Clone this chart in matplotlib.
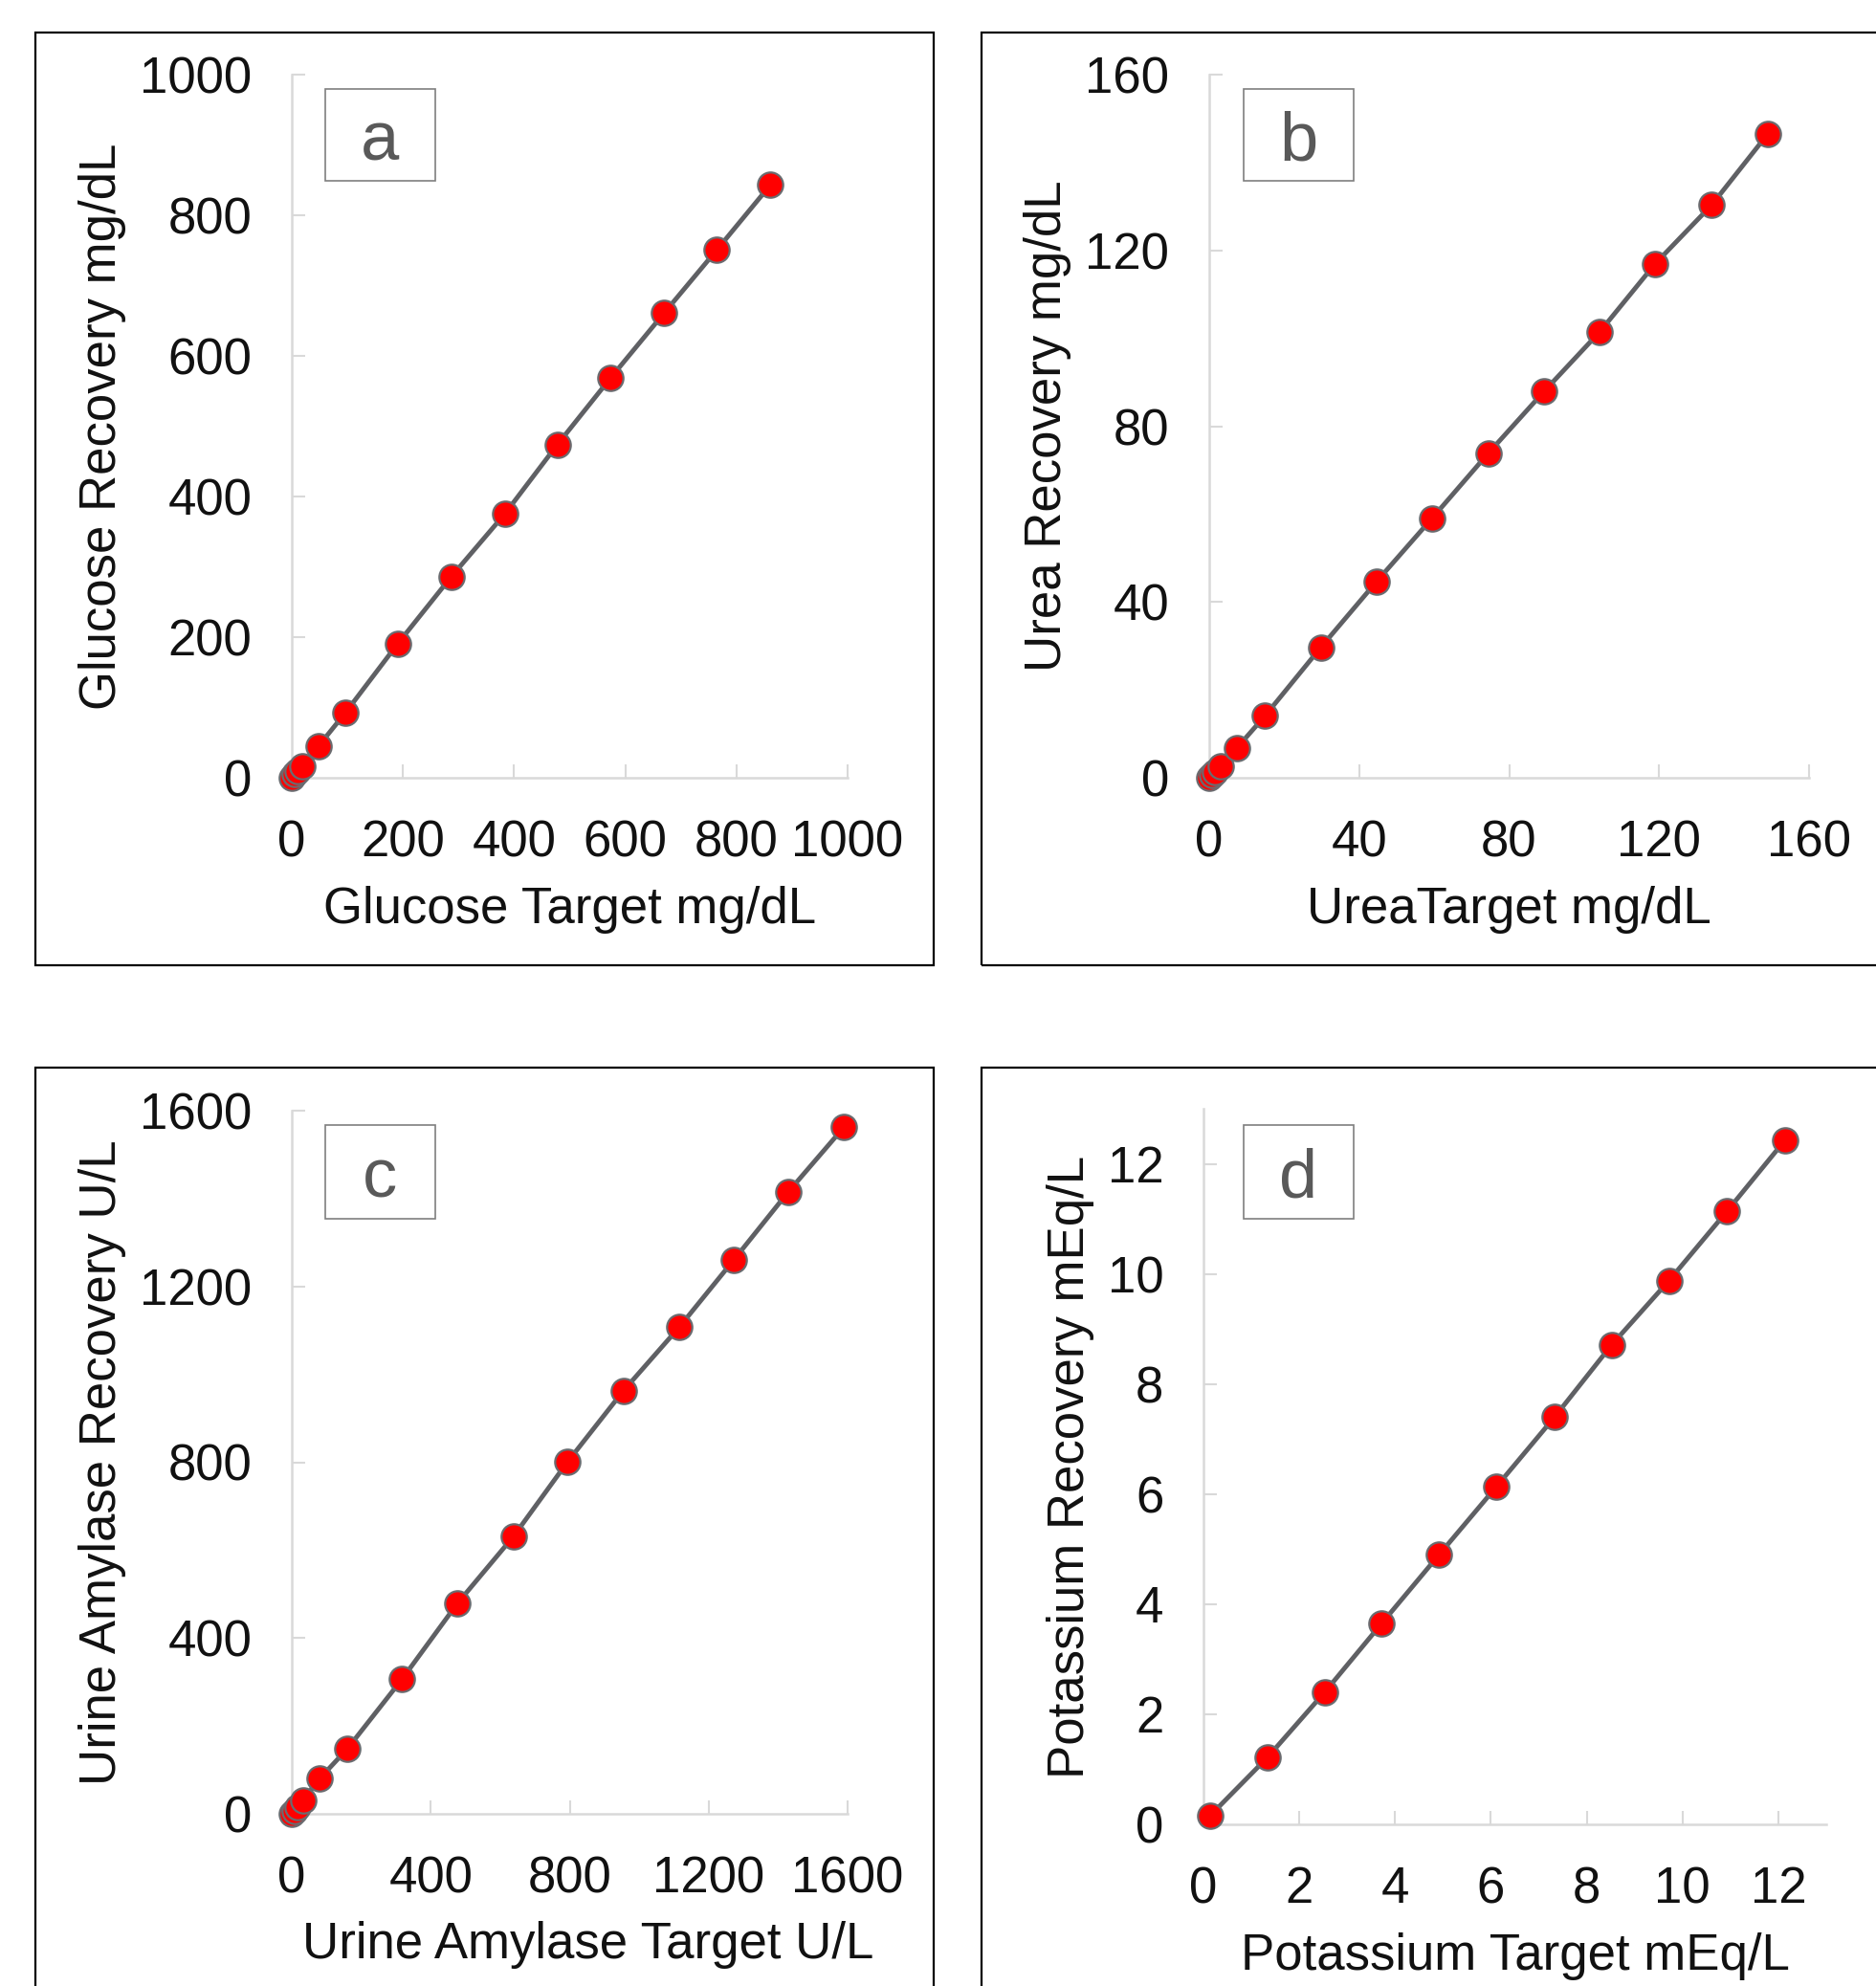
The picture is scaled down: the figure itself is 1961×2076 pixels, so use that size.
import numpy as np
import matplotlib.pyplot as plt
from matplotlib.patches import Rectangle

plt.rcParams['font.family'] = ['Liberation Sans', 'DejaVu Sans']

# panel a - glucose
glu_target = [0, 5, 10, 19, 48, 96, 191, 287, 383, 478, 574, 670, 765, 861]
glu_recovery = [0, 5, 9, 17, 45, 92, 191, 286, 375, 474, 569, 661, 751, 843]

# panel b - urea
urea_target = [0, 0.75, 1.5, 3, 7.4, 14.9, 29.8, 44.7, 59.5, 74.4, 89.3, 104.2, 119.0, 134.0, 148.9]
urea_recovery = [0, 0.7, 1.4, 2.7, 6.8, 14.1, 29.7, 44.7, 59.1, 73.8, 87.9, 101.5, 117.0, 130.3, 146.4]

# panel c - urine amylase
amy_target = [0, 8, 16, 32, 80, 159, 317, 477, 638, 794, 955, 1115, 1272, 1429, 1589]
amy_recovery = [0, 7, 15, 31, 80, 147, 306, 479, 631, 801, 963, 1107, 1260, 1415, 1562]

# panel d - potassium
k_target = [0.13, 1.33, 2.53, 3.72, 4.92, 6.12, 7.33, 8.52, 9.72, 10.93, 12.14]
k_recovery = [0.15, 1.21, 2.40, 3.65, 4.90, 6.14, 7.40, 8.71, 9.88, 11.14, 12.43]

W, H = 1961, 2076
fig = plt.figure(figsize=(W / 100, H / 100), dpi=100)

def fx(px):
    return px / W

def fy(py):
    return 1 - py / H

panels = [
    # data, axes box (px: left, top, right, bottom), limits, ticks, labels, xlabel x-pos, letter, letter box px
    (glu_target, glu_recovery, (305, 78, 886, 813), 1000, np.arange(0, 1001, 200),
     'Glucose Target mg/dL', 'Glucose Recovery mg/dL', 0.5, 'a', (340, 93, 455, 189)),
    (urea_target, urea_recovery, (1264, 78, 1891, 813), 160, np.arange(0, 161, 40),
     'UreaTarget mg/dL', 'Urea Recovery mg/dL', 0.5, 'b', (1300, 93, 1415, 189)),
    (amy_target, amy_recovery, (305, 1161, 886, 1896), 1600, np.arange(0, 1601, 400),
     'Urine Amylase Target U/L', 'Urine Amylase Recovery U/L', 0.533, 'c', (340, 1176, 455, 1274)),
    (k_target, k_recovery, (1258, 1159, 1909, 1907), 13, np.arange(0, 13, 2),
     'Potassium Target mEq/L', 'Potassium Recovery mEq/L', 0.5, 'd', (1300, 1176, 1415, 1274)),
]

# outer panel frames
for (l, t, r, b) in [(37, 34, 976, 1009), (1026, 34, 1975, 1009),
                     (37, 1116, 976, 2090), (1026, 1116, 1975, 2090)]:
    fig.patches.append(Rectangle((fx(l), fy(b)), fx(r - l), (b - t) / H,
                                 transform=fig.transFigure, fill=False,
                                 edgecolor='black', linewidth=1.6))

for xs, ys, (l, t, r, b), lim, ticks, xlab, ylab, xlab_x, letter, (bl, bt, br, bb) in panels:
    ax = fig.add_axes([fx(l), fy(b), fx(r - l), (b - t) / H])
    ax.plot(xs, ys, '-', color='#5f6064', linewidth=3.5, zorder=2)
    ax.plot(xs, ys, 'o', markersize=19, markerfacecolor='#ff0000',
            markeredgecolor='#6a6b6f', markeredgewidth=1.6, zorder=3, clip_on=False)
    ax.set_xlim(0, lim)
    ax.set_ylim(0, lim)
    ax.set_xticks(ticks)
    ax.set_yticks(ticks)
    for side in ['top', 'right']:
        ax.spines[side].set_visible(False)
    for side in ['left', 'bottom']:
        ax.spines[side].set_color('#d9d9d9')
        ax.spines[side].set_linewidth(1.8)
    ax.tick_params(direction='in', length=10, width=1.5, color='#d9d9d9',
                   labelsize=38, labelcolor='#111111')
    ax.tick_params(axis='x', pad=31)
    ax.tick_params(axis='y', pad=30)
    ax.set_xlabel(xlab, fontsize=38, color='#111111', labelpad=14)
    ax.xaxis.label.set_x(xlab_x)
    ax.set_ylabel(ylab, fontsize=38, color='#111111', labelpad=10)
    ax.patch.set_alpha(0)

    fig.patches.append(Rectangle((fx(bl), fy(bb)), fx(br - bl), (bb - bt) / H,
                                 transform=fig.transFigure, fill=False,
                                 edgecolor='#7f7f7f', linewidth=1.2))
    fig.text(fx((bl + br) / 2), fy((bt + bb) / 2), letter, fontsize=52,
             color='#595959', ha='center', va='center_baseline')

plt.savefig('out.png', dpi=100)
